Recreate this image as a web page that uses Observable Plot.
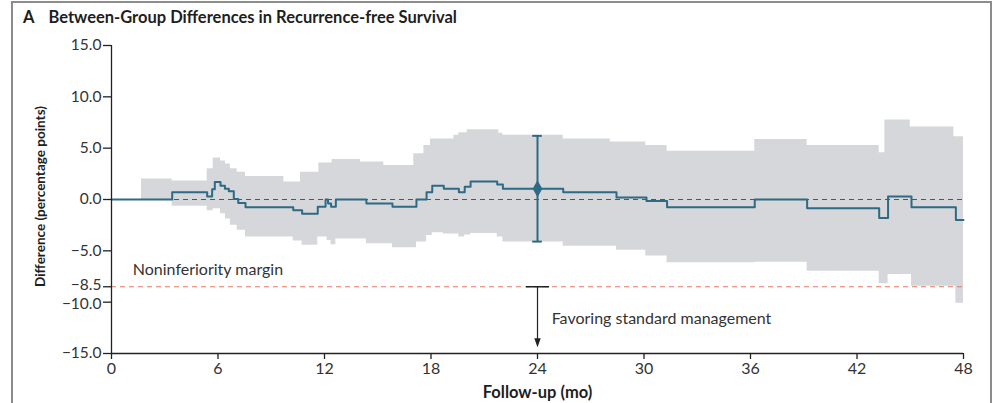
<!DOCTYPE html>
<html>
<head>
<meta charset="utf-8">
<script src="https://cdn.jsdelivr.net/npm/d3@7"></script>
<script src="https://cdn.jsdelivr.net/npm/@observablehq/plot@0.6"></script>
<style>
  html, body { margin: 0; padding: 0; background: #fff; }
  body { width: 997px; height: 403px; position: relative; overflow: hidden; font-family: Lato, "Open Sans", sans-serif; }
  #frame { position: absolute; left: 11px; top: 1px; width: 981px; height: 440px; border: 2px solid #8c8c8c; border-bottom: none; box-sizing: border-box; }
  #title { position: absolute; left: 23px; top: 7px; font-weight: bold; font-size: 16.5px; color: #1e1e1e; }
  #title .panel { margin-right: 14px; }
  #chart { position: absolute; left: 0; top: 30px; }
</style>
</head>
<body>
<div id="frame"></div>
<div id="title"><span class="panel">A</span>Between-Group Differences in Recurrence-free Survival</div>
<div id="chart"></div>
<script>
// Difference in recurrence-free survival (percentage points), step function by month
const lineTime = [0, 3.42, 5.39, 5.67, 5.82, 6.14, 6.39, 6.61, 6.89, 7.14, 7.55, 10.24, 10.74, 11.62, 12.06, 12.2, 12.37, 12.64, 14.36, 15.83, 17.18, 17.75, 18.07, 18.72, 19.57, 19.9, 20.23, 21.73, 22.05, 25.45, 28.45, 30.14, 31.3, 36.24, 39.19, 43.25, 43.75, 45.07, 47.57, 48];
const lineDiff = [0, 0.7, 0.3, 1.0, 1.7, 1.35, 1.05, 0.8, 0.05, -0.35, -0.75, -1.05, -1.4, -0.7, 0, -0.4, -0.7, 0, -0.4, -0.7, 0, 0.7, 1.35, 1.05, 0.7, 1.25, 1.75, 1.45, 1.05, 0.7, 0.2, -0.15, -0.75, 0, -0.85, -1.8, 0.3, -0.75, -2.0, -2.0];

// 95% confidence band around the difference
const bandTime = [0, 1.69, 3.42, 5.39, 5.73, 6.14, 6.42, 6.7, 7.08, 7.55, 9.71, 10.24, 10.65, 10.74, 11.62, 11.68, 12.15, 12.37, 12.43, 12.64, 14.03, 14.36, 15.34, 15.83, 17.03, 17.18, 17.6, 17.75, 17.97, 18.07, 18.7, 19.29, 19.57, 19.9, 20.04, 20.23, 21.73, 21.82, 22.05, 25.45, 28.1, 28.45, 30.1, 31.3, 36.24, 39.19, 43.25, 43.57, 43.75, 45.0, 45.07, 47.46, 47.57, 48];
const bandLower = [0, 0, -0.65, -1.1, -0.9, -1.4, -1.9, -2.5, -3.0, -3.65, -3.65, -4.05, -4.05, -4.45, -3.65, -3.65, -4.0, -4.4, -4.4, -3.85, -3.85, -4.3, -4.3, -4.7, -4.7, -4.15, -4.15, -3.5, -3.5, -3.25, -3.35, -3.35, -3.65, -3.45, -3.45, -3.3, -3.65, -3.65, -4.15, -4.55, -4.55, -4.95, -5.5, -6.15, -6.1, -7.0, -8.2, -8.2, -7.3, -7.3, -8.45, -8.45, -10.1, -10.1];
const bandUpper = [0, 2.0, 1.8, 3.0, 4.05, 3.75, 3.45, 3.0, 2.65, 2.25, 1.7, 1.7, 2.65, 2.65, 2.65, 3.55, 3.55, 3.55, 3.9, 3.9, 3.65, 3.65, 3.3, 3.3, 4.45, 4.45, 5.25, 5.25, 5.9, 5.9, 5.9, 6.25, 6.5, 6.5, 6.8, 6.8, 6.8, 6.45, 6.25, 5.9, 5.6, 5.6, 5.25, 4.7, 5.85, 5.25, 4.55, 7.75, 7.75, 7.05, 7.05, 6.1, 6.1, 6.1];

// Estimate at 24 months with its confidence interval
const landmarkMonth = [24];
const landmarkDiff = [1.05];
const landmarkLower = [-4.1];
const landmarkUpper = [6.2];

// Noninferiority margin
const marginValue = [-8.5];
const arrowEnd = [-14.4];

const xTicks = [0, 6, 12, 18, 24, 30, 36, 42, 48];
const yTicks = [15, 10, 5, 0, -5, -8.5, -10, -15];

const lineData = lineTime.map((t, i) => ({t, d: lineDiff[i]}));
const bandData = bandTime.map((t, i) => ({t, lo: bandLower[i], hi: bandUpper[i]}));
const landmark = landmarkMonth.map((t, i) => ({t, d: landmarkDiff[i], lo: landmarkLower[i], hi: landmarkUpper[i]}));
const margin = landmarkMonth.map((t, i) => ({t, y1: marginValue[0], y2: arrowEnd[i]}));

const teal = "#2e6a83";
const ink = "#222";
const fmt = d => (d < 0 ? "\u2212" : "") + Math.abs(d).toFixed(1);

// the margin label and −10.0 sit close together; nudge them apart slightly
const crowded = [-8.5, -10];
const yLabelOpts = {x: 0, y: d => d, text: fmt, textAnchor: "end", dx: -10, fontSize: 15.5, fill: "#333"};

// narrow downward-pointing arrowhead with its tip at the anchor point
const arrowHead = {
  draw(context) {
    context.moveTo(-3.2, -9);
    context.lineTo(3.2, -9);
    context.lineTo(0, 0);
    context.closePath();
  }
};

const chart = Plot.plot({
  width: 997,
  height: 373,
  marginLeft: 111,
  marginRight: 34,
  marginTop: 15,
  marginBottom: 50,
  style: {fontFamily: "Lato, 'Open Sans', sans-serif", fontSize: "16px", color: "#333", background: "transparent"},
  x: {domain: [0, 48]},
  y: {domain: [-15, 15]},
  marks: [
    Plot.areaY(bandData, {x: "t", y1: "lo", y2: "hi", curve: "step-after", fill: "#d5d7db"}),
    Plot.ruleY([0], {stroke: "#555", strokeWidth: 1.2, strokeDasharray: "5,4"}),
    Plot.ruleY(marginValue, {stroke: "#e57a68", strokeWidth: 1.2, strokeDasharray: "5,4"}),
    Plot.line(lineData, {x: "t", y: "d", curve: "step-after", stroke: teal, strokeWidth: 2}),
    Plot.ruleX(landmark, {x: "t", y1: "lo", y2: "hi", stroke: teal, strokeWidth: 2}),
    Plot.ruleY(landmark, {y: "hi", x1: d => d.t - 0.27, x2: d => d.t + 0.27, stroke: teal, strokeWidth: 2}),
    Plot.ruleY(landmark, {y: "lo", x1: d => d.t - 0.27, x2: d => d.t + 0.27, stroke: teal, strokeWidth: 2}),
    Plot.dot(landmark, {x: "t", y: "d", symbol: "diamond", r: 4.2, fill: teal, stroke: teal}),
    // arrow pointing away from the margin
    Plot.ruleY(margin, {y: "y1", x1: d => d.t - 0.62, x2: d => d.t + 0.68, stroke: ink, strokeWidth: 1.5}),
    Plot.ruleX(margin, {x: "t", y1: "y1", y2: d => d.y2 + 0.6, stroke: ink, strokeWidth: 1.2}),
    Plot.dot(margin, {x: "t", y: "y2", symbol: arrowHead, fill: ink, stroke: "none"}),
    Plot.text(["Noninferiority margin"], {x: 1.2, y: -6.9, textAnchor: "start", fontSize: 16, fill: "#333"}),
    Plot.text(["Favoring standard management"], {x: 24.8, y: -11.6, textAnchor: "start", fontSize: 16, fill: "#333"}),
    // axes
    Plot.ruleX([0], {stroke: ink, strokeWidth: 1.3}),
    Plot.ruleY([-15], {stroke: ink, strokeWidth: 1.3}),
    Plot.axisY({ticks: yTicks, tickFormat: () => "", tickSize: 8, label: null, stroke: ink, strokeWidth: 1.3}),
    Plot.text(yTicks.filter(d => !crowded.includes(d)), yLabelOpts),
    Plot.text([crowded[0]], {...yLabelOpts, dy: -2}),
    Plot.text([crowded[1]], {...yLabelOpts, dy: 2}),
    Plot.axisX({ticks: xTicks, tickSize: 6, tickPadding: 3, label: null, stroke: ink, strokeWidth: 1.3, fill: "#333", fontSize: 16}),
    Plot.text(["Follow-up (mo)"], {frameAnchor: "bottom", lineAnchor: "middle", dy: 39, fontWeight: "bold", fontSize: 16.5, fill: "#1e1e1e"}),
    Plot.text(["Difference (percentage points)"], {frameAnchor: "left", textAnchor: "middle", lineAnchor: "middle", dx: -71, dy: -3, rotate: -90, fontWeight: "bold", fontSize: 13.5, fill: "#1e1e1e"})
  ]
});

document.getElementById("chart").appendChild(chart);
</script>
</body>
</html>
